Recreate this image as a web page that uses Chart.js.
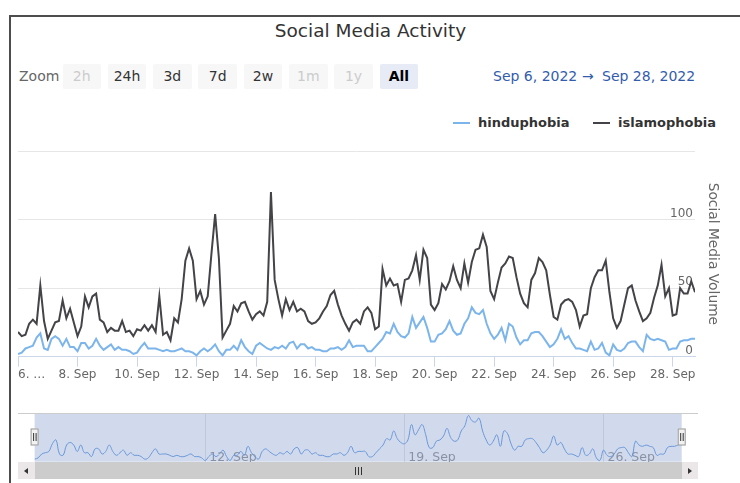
<!DOCTYPE html>
<html>
<head>
<meta charset="utf-8">
<title>Social Media Activity</title>
<script src="https://cdn.jsdelivr.net/npm/chart.js@4.4.1/dist/chart.umd.min.js"></script>
<style>
  body { margin: 0; background: #fff; font-family: "DejaVu Sans", sans-serif; }
  #wrap { position: relative; width: 740px; height: 483px; overflow: hidden; }
  #frame { position: absolute; left: 9px; top: 15px; width: 800px; height: 500px;
           border-left: 2px solid #4d4d4d; border-top: 2px solid #4d4d4d; }
  .txt { position: absolute; white-space: nowrap; }
  #title { left: 0; width: 741px; text-align: center; top: 21px; line-height: 20px; font-size: 18.5px; color: #333; }
  #zoomLabel { left: 19px; top: 66px; line-height: 20px; font-size: 14px; color: #666; }
  .btn { position: absolute; top: 64px; width: 38.5px; height: 25px; line-height: 25px; text-align: center;
         font-size: 14px; background: #f7f7f7; color: #333; border-radius: 2px; }
  .btn.off { color: #ccc; }
  .btn.on { background: #e6ebf5; color: #000; font-weight: bold; }
  .date { top: 66px; line-height: 20px; font-size: 14px; color: #335cad; }
  .legend { top: 113px; line-height: 20px; font-size: 13px; font-weight: bold; color: #333; }
  .sym { position: absolute; top: 122px; width: 17px; height: 2px; }
  canvas { position: absolute; left: 0; }
  #mainChart { top: 0; }
  #navChart { top: 400px; }
  #scroll { position: absolute; left: 18px; top: 462px; width: 680px; height: 17px; background: #f2f2f2; }
  .sbtn { position: absolute; top: 0; width: 16.5px; height: 17px; background: #ebe7e8; }
  #thumb { position: absolute; left: 16.5px; top: 0; width: 647px; height: 17px; background: #cccccc; }
  .arrow { position: absolute; top: 5.5px; width: 0; height: 0; border-top: 3px solid transparent; border-bottom: 3px solid transparent; }
  .grip { position: absolute; top: 4.5px; width: 1px; height: 8px; background: #333; }
</style>
</head>
<body>
<div id="wrap">
  <div id="frame"></div>
  <div id="title" class="txt">Social Media Activity</div>
  <div id="zoomLabel" class="txt">Zoom</div>
  <div id="buttons"></div>
  <div class="txt date" style="left:493px">Sep 6, 2022</div>
  <div class="txt date" style="left:582px">→</div>
  <div class="txt date" style="left:602px">Sep 28, 2022</div>
  <div class="sym" style="left:453px;background:#7cb5ec"></div>
  <div class="txt legend" style="left:478px">hinduphobia</div>
  <div class="sym" style="left:593px;background:#434348"></div>
  <div class="txt legend" style="left:618px">islamophobia</div>
  <canvas id="mainChart" width="740" height="483"></canvas>
  <canvas id="navChart" width="740" height="83"></canvas>
  <div id="scroll">
    <div class="sbtn" style="left:0"><div class="arrow" style="left:6px;border-right:4px solid #333"></div></div>
    <div id="thumb">
      <div class="grip" style="left:320px"></div>
      <div class="grip" style="left:323px"></div>
      <div class="grip" style="left:326px"></div>
    </div>
    <div class="sbtn" style="left:663.5px"><div class="arrow" style="left:6.5px;border-left:4px solid #333"></div></div>
  </div>
</div>
<script>
// 3-hourly readings from Sep 6 00:00 to Sep 28 18:00
const hinduphobia = [
    2, 3, 6, 7, 8, 14, 17, 6, 5, 13,
    15, 13, 8, 13, 7, 7, 4, 10, 10, 6,
    8, 13, 8, 5, 7, 9, 5, 7, 5, 5,
    4, 2, 3, 7, 10, 6, 6, 6, 5, 4,
    5, 4, 4, 5, 6, 4, 4, 3, 1, 4,
    6, 4, 6, 9, 4, 1, 5, 5, 8, 5,
    12, 7, 4, 2, 8, 10, 8, 6, 5, 7,
    6, 8, 6, 10, 11, 6, 9, 9, 6, 7,
    5, 5, 4, 4, 6, 6, 7, 5, 7, 12,
    7, 8, 8, 8, 4, 4, 7, 10, 13, 18,
    17, 24, 18, 15, 14, 17, 29, 21, 25, 29,
    21, 11, 11, 16, 17, 20, 26, 19, 16, 17,
    24, 28, 36, 32, 31, 34, 24, 17, 13, 16,
    21, 12, 24, 22, 14, 9, 12, 12, 17, 18,
    18, 15, 11, 7, 9, 13, 20, 13, 15, 10,
    6, 6, 5, 4, 11, 5, 6, 10, 3, 1,
    9, 5, 4, 6, 10, 11, 11, 7, 4, 16,
    13, 12, 13, 12, 11, 5, 6, 6, 11, 12,
    12, 13, 13
];
const islamophobia = [
    18, 15, 16, 24, 27, 24, 52, 26, 13, 19,
    25, 26, 41, 28, 35, 25, 15, 22, 44, 36,
    44, 46, 27, 25, 18, 21, 19, 19, 26, 18,
    19, 15, 20, 19, 23, 19, 23, 18, 44, 16,
    18, 12, 28, 25, 42, 70, 79, 70, 42, 48,
    38, 44, 75, 104, 72, 14, 19, 24, 37, 33,
    39, 40, 33, 27, 31, 33, 30, 40, 120, 56,
    42, 30, 42, 34, 40, 33, 35, 33, 26, 24,
    25, 28, 33, 37, 45, 48, 38, 30, 24, 19,
    25, 27, 24, 33, 36, 32, 20, 22, 64, 52,
    57, 52, 53, 40, 56, 57, 63, 74, 56, 78,
    72, 38, 34, 39, 53, 49, 55, 66, 56, 50,
    68, 54, 69, 78, 79, 89, 80, 48, 42, 54,
    65, 68, 73, 72, 58, 46, 39, 36, 56, 61,
    72, 69, 63, 45, 29, 27, 38, 41, 42, 40,
    34, 22, 30, 31, 50, 58, 63, 63, 70, 47,
    28, 21, 26, 38, 50, 52, 41, 33, 26, 28,
    32, 43, 52, 67, 44, 50, 30, 31, 50, 46,
    46, 55, 47
];
const hours = islamophobia.map((_, i) => i * 3);
const xMax = 546;

const xTickHours = [0, 48, 96, 144, 192, 240, 288, 336, 384, 432, 480, 528];
const xTickLabels = ['6. …', '8. Sep', '10. Sep', '12. Sep', '14. Sep', '16. Sep',
                     '18. Sep', '20. Sep', '22. Sep', '24. Sep', '26. Sep', '28. Sep'];
const navTickHours = [144, 312, 480];
const navTickLabels = ['12. Sep', '19. Sep', '26. Sep'];

const buttonLabels = ['2h', '24h', '3d', '7d', '2w', '1m', '1y', 'All'];
const disabledButtons = ['2h', '1m', '1y'];
const selectedButton = 'All';

Chart.defaults.font.family = '"DejaVu Sans", sans-serif';

const buttonBox = document.getElementById('buttons');
buttonLabels.forEach((label, k) => {
    const b = document.createElement('div');
    b.className = 'btn' + (disabledButtons.includes(label) ? ' off' : '') + (label === selectedButton ? ' on' : '');
    b.style.left = (62.5 + 45.3 * k) + 'px';
    b.textContent = label;
    buttonBox.appendChild(b);
});

const toPoints = values => values.map((v, i) => ({ x: hours[i], y: v }));

new Chart(document.getElementById('mainChart'), {
    type: 'line',
    data: {
        datasets: [{
            label: 'hinduphobia',
            data: toPoints(hinduphobia),
            borderColor: '#7cb5ec',
            borderWidth: 2,
            pointRadius: 0,
            tension: 0,
            order: 1
        }, {
            label: 'islamophobia',
            data: toPoints(islamophobia),
            borderColor: '#434348',
            borderWidth: 2,
            pointRadius: 0,
            tension: 0,
            order: 0
        }]
    },
    options: {
        responsive: false,
        animation: false,
        layout: { padding: { left: 18, top: 151, right: 0, bottom: 0 } },
        plugins: { legend: { display: false }, tooltip: { enabled: false } },
        scales: {
            x: {
                type: 'linear',
                min: 0,
                max: xMax,
                afterBuildTicks: s => { s.ticks = [...xTickHours, xMax].map(v => ({ value: v })); },
                afterFit: s => { s.height = 126.3; },
                border: { color: '#ccd6eb' },
                grid: {
                    drawOnChartArea: false,
                    tickLength: 10,
                    color: c => (c.tick && c.tick.value === xMax) ? 'rgba(0,0,0,0)' : '#ccd6eb'
                },
                ticks: {
                    autoSkip: false,
                    maxRotation: 0,
                    align: 'inner',
                    padding: 1,
                    color: '#666',
                    font: { size: 12 },
                    callback: (v, i) => xTickLabels[i] ?? ''
                }
            },
            y: {
                position: 'right',
                min: 0,
                max: 150,
                afterFit: s => { s.width = 45; },
                border: { display: false },
                grid: { color: '#e6e6e6', drawTicks: false },
                ticks: {
                    stepSize: 50,
                    mirror: true,
                    padding: -2,
                    labelOffset: -6,
                    color: '#666',
                    font: { size: 12 },
                    callback: v => v === 150 ? '' : v
                },
                title: {
                    display: true,
                    text: 'Social Media Volume',
                    color: '#666',
                    font: { size: 13.8 },
                    padding: { top: 19, bottom: 0 }
                }
            }
        }
    }
});

const navigatorMask = {
    id: 'navigatorMask',
    afterDatasetsDraw(chart) {
        const { ctx, chartArea: a } = chart;
        ctx.save();
        ctx.fillStyle = 'rgba(102, 133, 194, 0.3)';
        ctx.fillRect(a.left, a.top, a.right - a.left, a.bottom - a.top);
        ctx.strokeStyle = '#cccccc';
        ctx.lineWidth = 1;
        ctx.beginPath();
        ctx.moveTo(18, a.top + 0.5);
        ctx.lineTo(698, a.top + 0.5);
        ctx.stroke();
        const cy = a.top + 24;
        [a.left, a.right].forEach(x => {
            ctx.fillStyle = '#f2f2f2';
            ctx.strokeStyle = '#999999';
            ctx.fillRect(x - 4, cy - 8.5, 8, 17);
            ctx.strokeRect(x - 4 + 0.5, cy - 8.5 + 0.5, 7, 16);
            ctx.strokeStyle = '#333';
            ctx.beginPath();
            ctx.moveTo(x - 1, cy - 4); ctx.lineTo(x - 1, cy + 4);
            ctx.moveTo(x + 1.5, cy - 4); ctx.lineTo(x + 1.5, cy + 4);
            ctx.stroke();
        });
        ctx.restore();
    }
};

new Chart(document.getElementById('navChart'), {
    type: 'line',
    data: {
        datasets: [{
            data: toPoints(hinduphobia),
            borderColor: '#6a9fe0',
            borderWidth: 1,
            pointRadius: 0,
            tension: 0.4
        }]
    },
    options: {
        responsive: false,
        animation: false,
        layout: { padding: { left: 34.6, right: 58.3, top: 13, bottom: 0 } },
        plugins: { legend: { display: false }, tooltip: { enabled: false } },
        scales: {
            x: {
                type: 'linear',
                min: 0,
                max: xMax,
                afterBuildTicks: s => { s.ticks = navTickHours.map(v => ({ value: v })); },
                afterFit: s => { s.height = 21.3; },
                border: { display: false },
                grid: { color: '#e6e6e6', drawTicks: false },
                ticks: {
                    autoSkip: false,
                    maxRotation: 0,
                    mirror: true,
                    align: 'start',
                    labelOffset: 4,
                    padding: -4,
                    color: '#999',
                    font: { size: 12.5 },
                    callback: (v, i) => navTickLabels[i]
                }
            },
            y: { display: false, min: 0, max: 38 }
        }
    },
    plugins: [navigatorMask]
});
</script>
</body>
</html>
